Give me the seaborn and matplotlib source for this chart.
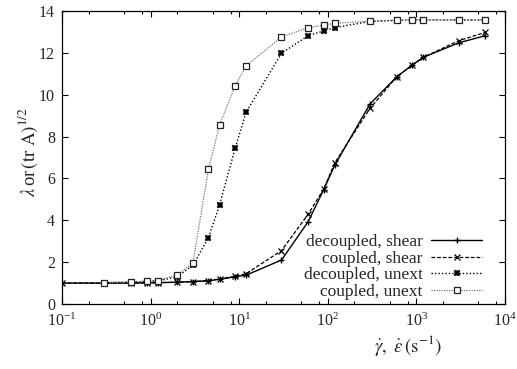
import matplotlib
matplotlib.use("Agg")
import matplotlib.pyplot as plt
import matplotlib.ticker as mticker
import seaborn as sns

sns.set_style("ticks")
plt.rcParams['font.family'] = ['Liberation Serif', 'DejaVu Serif']
plt.rcParams['mathtext.fontset'] = 'stix'

# data
x_shear = [0.1, 0.3, 0.6, 0.9, 1.2, 2, 3, 4.5, 6, 9, 12, 30, 60, 90, 120, 300, 600, 900, 1200, 3000, 6000]
decoupled_shear = [1.0, 1.0, 1.0, 1.01, 1.02, 1.04, 1.07, 1.11, 1.18, 1.30, 1.38, 2.10, 3.93, 5.47, 6.64, 9.56, 10.86, 11.42, 11.79, 12.48, 12.82]
coupled_shear = [1.0, 1.0, 1.0, 1.01, 1.02, 1.04, 1.07, 1.12, 1.20, 1.33, 1.45, 2.55, 4.29, 5.50, 6.75, 9.35, 10.86, 11.42, 11.79, 12.58, 12.98]

x_unext = [0.3, 0.6, 0.9, 1.2, 2, 3, 4.5, 6, 9, 12, 30, 60, 90, 120, 300, 600, 900, 1200, 3000, 6000]
decoupled_unext = [1.02, 1.05, 1.08, 1.10, 1.30, 1.85, 3.17, 4.73, 7.44, 9.17, 11.98, 12.82, 13.05, 13.21, 13.50, 13.55, 13.57, 13.57, 13.57, 13.57]
coupled_unext = [1.02, 1.05, 1.10, 1.12, 1.39, 1.95, 6.45, 8.55, 10.42, 11.38, 12.76, 13.20, 13.33, 13.41, 13.52, 13.56, 13.58, 13.58, 13.58, 13.58]

labels = ["decoupled, shear", "coupled, shear", "decoupled, unext", "coupled, unext"]
y_ticks = [0, 2, 4, 6, 8, 10, 12, 14]

fig = plt.figure(figsize=(5.17, 3.69), dpi=100)
ax = fig.add_axes([62/517, 1-304/369, (505-62)/517, (304-11)/369])

sns.lineplot(x=x_shear, y=decoupled_shear, ax=ax, color='black', lw=1.0,
             linestyle='-', marker='+', markersize=4.5, mew=1.0, mec='black', label=labels[0])
sns.lineplot(x=x_shear, y=coupled_shear, ax=ax, color='black', lw=0.9,
             linestyle=(0, (3, 1.5)), marker='x', markersize=4, mew=0.9, mec='black', label=labels[1])
sns.lineplot(x=x_unext, y=decoupled_unext, ax=ax, color='black', lw=1.0,
             linestyle=(0, (1, 1.5)), marker='X', markersize=4.5, mew=0.3, mec='black', label=labels[2])
sns.lineplot(x=x_unext, y=coupled_unext, ax=ax, color='#777777', lw=0.9,
             linestyle=(0, (1, 1)), marker='s', markersize=4, mfc='white', mec='#222222', mew=0.9, label=labels[3])

ax.set_xscale('log')
ax.set_xlim(0.1, 1e4)
ax.set_ylim(0, 14)
ax.set_yticks(y_ticks)
ax.xaxis.set_major_locator(mticker.LogLocator(base=10, numticks=10))
ax.xaxis.set_minor_locator(mticker.LogLocator(base=10, subs=(2, 5, 8), numticks=20))
ax.xaxis.set_minor_formatter(mticker.NullFormatter())

ax.tick_params(which='both', direction='in', top=True, right=True, labelsize=11.5, width=0.8, color='black')
ax.tick_params(axis='x', pad=6)
ax.tick_params(axis='y', pad=5)
ax.tick_params(which='major', length=4.5)
ax.tick_params(which='minor', length=2.5)
for s in ax.spines.values():
    s.set_linewidth(0.9)
    s.set_color('black')

ax.set_ylabel(r'$\lambda\,$or$\,(\mathrm{tr\ A})^{1/2}$', fontsize=13.5)
ax.set_xlabel(r'$\dot{\gamma},\ \dot{\varepsilon}\,(\mathrm{s}^{-1})$', fontsize=13.5)
ax.xaxis.set_label_coords(0.78, -0.10)
ax.yaxis.set_label_coords(-0.05, 0.52)

leg = ax.legend(loc='lower right', bbox_to_anchor=(0.975, -0.027), frameon=False,
                markerfirst=False, fontsize=12.5, handlelength=2.9, labelspacing=0.02,
                handletextpad=0.5, borderpad=0.2)

fig.savefig('out.png', dpi=100)
